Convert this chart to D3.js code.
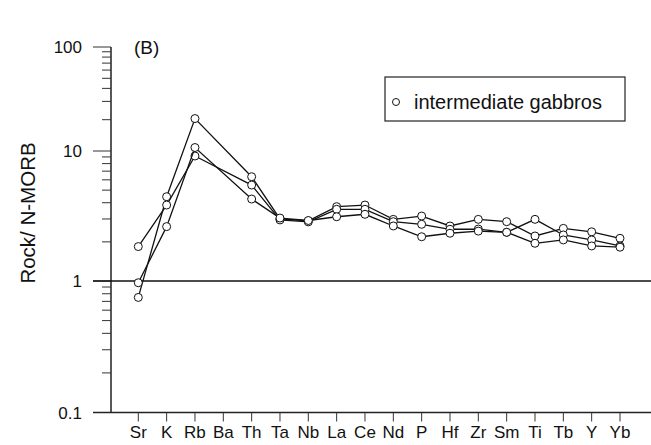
<!DOCTYPE html>
<html>
<head>
<meta charset="utf-8">
<script src="https://cdn.jsdelivr.net/npm/d3@7"></script>
<style>
  html, body { margin: 0; padding: 0; background: #fff; }
  svg { display: block; }
  text { font-family: "Liberation Sans", Arial, sans-serif; fill: #111; }
</style>
</head>
<body>
<svg id="chart" width="651" height="445"></svg>
<script>
// Elements along the x axis (N-MORB normalised spider diagram)
const elements = ["Sr", "K", "Rb", "Ba", "Th", "Ta", "Nb", "La", "Ce", "Nd", "P", "Hf", "Zr", "Sm", "Ti", "Tb", "Y", "Yb"];

// Rock / N-MORB ratios for each sample (Ba not analysed)
const sample1 = [0.75, 4.45, 20.5, null, 6.34, 3.00, 2.90, 3.73, 3.84, 2.98, 3.16, 2.65, 2.98, 2.86, 2.22, 2.54, 2.39, 2.13];
const sample2 = [1.84, 3.84, 9.15, null, 5.47, 2.95, 2.85, 3.56, 3.56, 2.86, 2.73, 2.50, 2.51, 2.37, 2.98, 2.26, 2.07, 1.86];
const sample3 = [0.97, 2.62, 10.8, null, 4.27, 3.05, 2.92, 3.12, 3.26, 2.65, 2.19, 2.33, 2.42, 2.37, 1.95, 2.07, 1.86, 1.82];

const samples = [sample1, sample2, sample3];

// Axis ticks
const majorTicks = [0.1, 1, 10, 100];
const majorLabels = ["0.1", "1", "10", "100"];

const svg = d3.select("#chart");

const x = d3.scalePoint().domain(elements).range([138.3, 620]);
// log axis, decade by decade (upper decade drawn a little shorter)
const y = d3.scaleLog().domain([0.1, 1, 10, 100]).range([412.5, 281, 151, 47]);

const axisX = 111;
const axisY = y(0.1);

// minor log ticks
const minorTicks = [];
[0.1, 1, 10].forEach(d => { for (let k = 2; k <= 9; k++) minorTicks.push(d * k); });

const g = svg.append("g");

// vertical axis line
g.append("line")
  .attr("x1", axisX).attr("x2", axisX)
  .attr("y1", y(100)).attr("y2", axisY)
  .attr("stroke", "#111").attr("stroke-width", 1.4);

// minor ticks
g.selectAll("line.minor").data(minorTicks).join("line")
  .attr("class", "minor")
  .attr("x1", axisX - 9).attr("x2", axisX)
  .attr("y1", d => y(d)).attr("y2", d => y(d))
  .attr("stroke", "#333").attr("stroke-width", 1);

// major ticks
g.selectAll("line.major").data(majorTicks).join("line")
  .attr("class", "major")
  .attr("x1", axisX - 18).attr("x2", axisX)
  .attr("y1", d => y(d)).attr("y2", d => y(d))
  .attr("stroke", "#333").attr("stroke-width", 1);

// reference line at Rock/N-MORB = 1
g.append("line")
  .attr("x1", axisX - 18).attr("x2", 651)
  .attr("y1", y(1)).attr("y2", y(1))
  .attr("stroke", "#111").attr("stroke-width", 1.3);

// horizontal axis line
g.append("line")
  .attr("x1", axisX - 18).attr("x2", 651)
  .attr("y1", axisY).attr("y2", axisY)
  .attr("stroke", "#222").attr("stroke-width", 1.3);

// y tick labels
g.selectAll("text.ylab").data(majorTicks).join("text")
  .attr("class", "ylab")
  .attr("x", 82)
  .attr("y", d => y(d) + 6)
  .attr("text-anchor", "end")
  .attr("font-size", 17)
  .text((d, i) => majorLabels[i]);

// x ticks and labels
g.selectAll("line.xtick").data(elements).join("line")
  .attr("class", "xtick")
  .attr("x1", d => x(d)).attr("x2", d => x(d))
  .attr("y1", axisY).attr("y2", axisY + 9)
  .attr("stroke", "#333").attr("stroke-width", 1);

g.selectAll("text.xlab").data(elements).join("text")
  .attr("class", "xlab")
  .attr("x", d => x(d))
  .attr("y", 438)
  .attr("text-anchor", "middle")
  .attr("font-size", 17)
  .text(d => d);

// y axis title
g.append("text")
  .attr("transform", "translate(35,213) rotate(-90)")
  .attr("text-anchor", "middle")
  .attr("font-size", 20.5)
  .text("Rock/ N-MORB");

// panel label
g.append("text")
  .attr("x", 134).attr("y", 54)
  .attr("font-size", 19)
  .text("(B)");

// sample patterns
const line = d3.line()
  .x(d => x(d.el))
  .y(d => y(d.v));

samples.forEach(s => {
  const pts = elements.map((el, i) => ({ el, v: s[i] })).filter(d => d.v !== null);
  g.append("path")
    .attr("d", line(pts))
    .attr("fill", "none")
    .attr("stroke", "#111")
    .attr("stroke-width", 1.3);
  g.selectAll(null).data(pts).join("circle")
    .attr("cx", d => x(d.el))
    .attr("cy", d => y(d.v))
    .attr("r", 4)
    .attr("fill", "#fff")
    .attr("stroke", "#111")
    .attr("stroke-width", 1);
});

// legend
const lg = g.append("g");
lg.append("rect")
  .attr("x", 385).attr("y", 77)
  .attr("width", 240).attr("height", 44)
  .attr("fill", "#fff")
  .attr("stroke", "#222").attr("stroke-width", 1.2);
lg.append("circle")
  .attr("cx", 396).attr("cy", 102)
  .attr("r", 3.5)
  .attr("fill", "#fff").attr("stroke", "#111").attr("stroke-width", 1);
lg.append("text")
  .attr("x", 414).attr("y", 109)
  .attr("font-size", 20)
  .text("intermediate gabbros");
</script>
</body>
</html>
